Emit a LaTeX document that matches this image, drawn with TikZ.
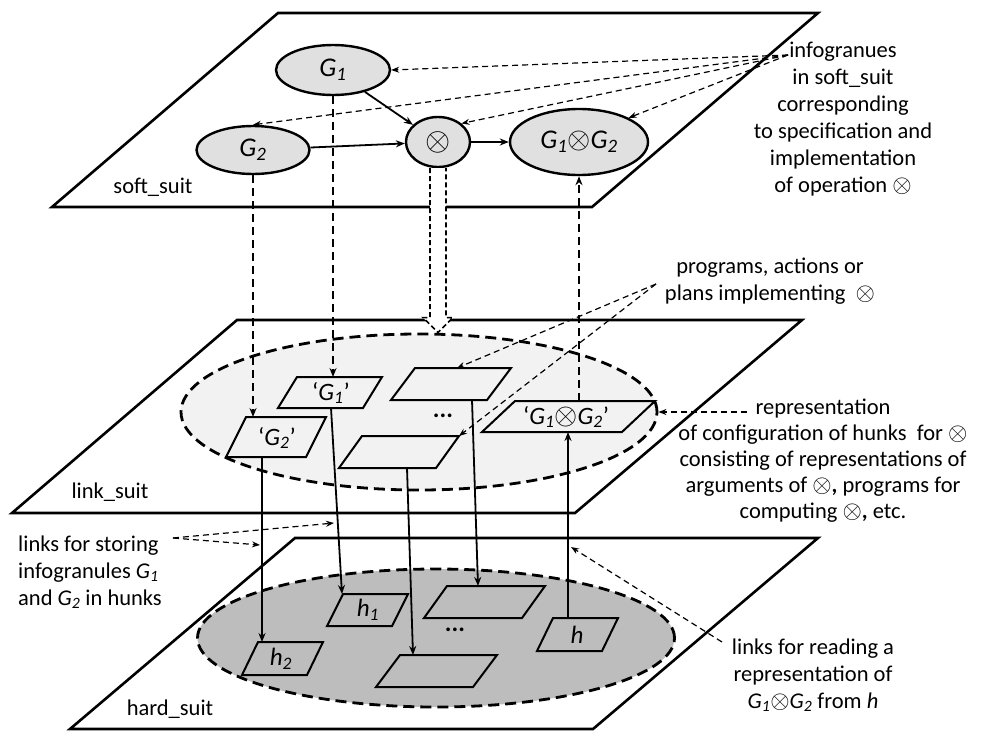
\documentclass[tikz,border=0pt]{standalone}
\usepackage{fontspec}
\usepackage{graphicx}
\setmainfont{Carlito}
\usetikzlibrary{shapes.geometric,arrows.meta,calc}
\definecolor{granfill}{HTML}{E0E0E0}
\definecolor{linkfill}{HTML}{F2F2F2}
\definecolor{hardfill}{HTML}{BDBDBD}
\newcommand{\gi}[1]{\textit{G}\textsubscript{\textit{#1}}}
\newcommand{\hi}[1]{\textit{h}\textsubscript{\textit{#1}}}
\newcommand{\ox}{\smash{\scalebox{1.2}{$\otimes$}}}
\newcommand{\pgm}[6]{\draw[pbox] (#2+#6,#3-#5) coordinate (#1-tl) -- (#2+#6+#4,#3-#5) coordinate (#1-tr) -- (#2+#4,#3) coordinate (#1-br) -- (#2,#3) coordinate (#1-bl) -- cycle;}
\tikzset{
  plane/.style={draw=black, line width=2.6pt, fill=white, line join=miter},
  suitel/.style={ellipse, draw=black, line width=2.8pt, dash pattern=on 11pt off 6pt, inner sep=0pt},
  gran/.style={ellipse, draw=black, line width=2.4pt, fill=granfill, inner sep=0pt, font=\fontsize{27}{30}\selectfont},
  pbox/.style={draw=black, line width=2pt, line join=miter},
  boxtxt/.style={inner sep=0pt, font=\fontsize{25}{28}\selectfont},
  solidc/.style={draw=black, line width=1.8pt, -{Stealth[length=9pt,width=7pt]}},
  dashc/.style={draw=black, line width=1.8pt, dash pattern=on 8pt off 5pt, -{Stealth[length=9pt,width=7pt]}},
  note/.style={draw=black, line width=1.2pt, dash pattern=on 6pt off 4pt, -{Stealth[length=8pt,width=6pt]}},
  hollow/.style={draw=black, fill=white, line width=1.6pt, dash pattern=on 5pt off 3pt, line join=miter},
  lbl/.style={inner sep=0pt, align=center, font=\fontsize{22.5}{27}\selectfont},
}
\begin{document}
\begin{tikzpicture}[x=1pt,y=-1pt]
\useasboundingbox (0,0) rectangle (990,731);
% planes
\draw[plane] (278,13) -- (818,13) -- (592,207) -- (52,207) -- cycle;
\draw[plane] (237,320) -- (802,320) -- (575,513) -- (12,513) -- cycle;
\draw[plane] (295,538) -- (818,538) -- (593,729) -- (70,729) -- cycle;
% plane ellipses
\node[suitel, fill=linkfill, minimum width=476pt, minimum height=156pt] (LE) at (419,412) {};
\node[suitel, fill=hardfill, minimum width=477pt, minimum height=138pt] (HE) at (436,638) {};
% link boxes
\pgm{G1b}{278}{408}{85}{31}{19}
\pgm{G2b}{226}{457}{80}{40}{20}
\pgm{P1}{391}{400}{96}{32}{24}
\pgm{P2}{339}{468}{97}{32}{23}
\pgm{GGb}{482}{432}{140}{31}{33}
\node[boxtxt] (tG1) at (331,393) {‘\gi{1}’};
\node[boxtxt] (tG2) at (277,438) {‘\gi{2}’};
\node[boxtxt] (tGG) at (566,417) {‘\gi{1}\ox\gi{2}’};
\node[boxtxt] (dots1) at (443,416) {\textbf{...}};
% hard boxes
\pgm{h2}{242}{675}{65}{33}{16}
\pgm{h1}{327}{626}{65}{32}{16}
\pgm{Q1}{424}{618}{98}{32}{23}
\pgm{Q2}{376}{687}{97}{32}{24}
\pgm{hh}{537}{651}{65}{33}{16}
\node[boxtxt] (th2) at (281,659) {\hi{2}};
\node[boxtxt] (th1) at (368,610) {\hi{1}};
\node[boxtxt] (th) at (577,635) {\textit{h}};
\node[boxtxt] (dots2) at (455,630) {\textbf{...}};
% soft nodes
\node[gran, minimum width=114pt, minimum height=50pt] (G1) at (333,70) {\gi{1}};
\node[gran, minimum width=113pt, minimum height=48pt] (G2) at (253,150) {\gi{2}};
\node[gran, minimum width=64pt, minimum height=50pt] (ot) at (438,142) {\scalebox{1.3}{$\otimes$}};
\node[gran, minimum width=138pt, minimum height=66pt] (GG) at (579,142) {\gi{1}\ox\gi{2}};
% soft arrows
\draw[solidc] (G1) -- (ot);
\draw[solidc] (G2) -- (ot);
\draw[solidc] (ot) -- (GG);
% vertical dashed
\draw[dashc] (G1.south) -- (G1.south |- G1b-tl);
\draw[dashc] (G2.south) -- (G2.south |- G2b-tl);
\draw[dashc] (GG.south |- GGb-tl) -- (GG.south);
% hollow arrow
\coordinate (htip) at (ot.south |- LE.north);
\draw[hollow] ($(ot.south)+(-8,0)$) -- ($(htip)+(-8,-15)$) -- ($(htip)+(-15,-15)$) -- (htip) -- ($(htip)+(15,-15)$) -- ($(htip)+(8,-15)$) -- ($(ot.south)+(8,0)$);
% solid down
\draw[solidc] ($(G1b-bl)+(53,0)$) -- ($(h1-tl)+(-1,0)$);
\draw[solidc] ($(G2b-bl)+(36,0)$) -- ($(h2-tl)+(4,0)$);
\draw[solidc] ($(P1-bl)+(81,0)$) -- ($(Q1-tl)+(31,0)$);
\draw[solidc] ($(P2-bl)+(68,0)$) -- ($(Q2-tl)+(13,0)$);
\draw[solidc] ($(hh-tl)+(15,0)$) -- ($(GGb-bl)+(86,0)$);
% labels
\node[lbl] (L1) at (843,119) {infogranues\\in soft\_suit\\corresponding\\to specification and\\implementation\\of operation \ox};
\node[lbl] (L2) at (770,281) {programs, actions or\\plans implementing~ \ox};
\node[lbl, font=\fontsize{22.5}{26}\selectfont] (L3) at (823,461) {representation\\of configuration of hunks~ for \ox\\consisting of representations of\\arguments of \ox\textbf{,} programs for\\computing \ox\textbf{,} etc.};
\node[lbl, align=left, anchor=west] (L4) at (18,572) {links for storing\\infogranules \gi{1}\\and \gi{2} in hunks};
\node[lbl] (L5) at (813,675) {links for reading a\\representation of\\\gi{1}\ox\gi{2} from \textit{h}};
\node[lbl] (S1) at (153,187) {soft\_suit};
\node[lbl] (S2) at (110,492) {link\_suit};
\node[lbl] (S3) at (170,709) {hard\_suit};
% label arrows
\coordinate (t1) at (788,55);
\draw[note] (t1) -- (G1.east);
\draw[note] (t1) -- (G2.north);
\draw[note] (t1) -- (ot.north east);
\draw[note] (t1) -- (GG.north east);
\coordinate (t2) at (656,284);
\draw[note] (t2) -- ($(P1-tl)+(42,0)$);
\draw[note] (t2) -- (P2-tr);
\coordinate (t3) at (747,412);
\draw[note] (t3) -- (LE.east);
\coordinate (t4) at (173,538);
\coordinate (k1) at (334,523);
\coordinate (k2) at (260,545);
\draw[note] (t4) -- (k1);
\draw[note] (t4) -- (k2);
\coordinate (t5) at (722,642);
\coordinate (k3) at (571,547);
\draw[note] (t5) -- (k3);
\end{tikzpicture}
\end{document}
